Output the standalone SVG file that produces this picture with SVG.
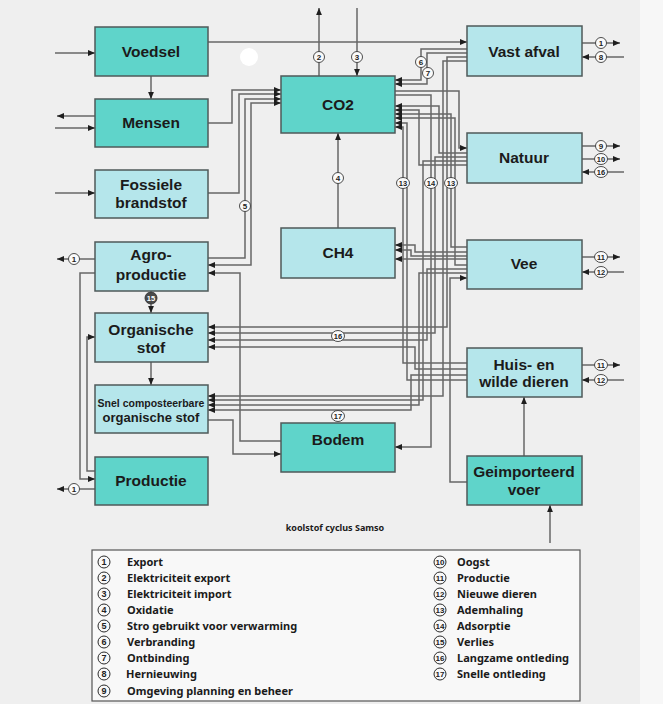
<svg xmlns="http://www.w3.org/2000/svg" width="663" height="704" viewBox="0 0 663 704">
<defs>
<marker id="ar" markerUnits="userSpaceOnUse" markerWidth="7" markerHeight="7" viewBox="0 0 7 7" refX="7" refY="3.5" orient="auto-start-reverse">
<path d="M0,0.6 L7,3.5 L0,6.4 z" fill="#1e1e1e"/>
</marker>
<style>
.bd{fill:#5fd4ca;stroke:#4f5a5a;stroke-width:1.5}
.bl{fill:#b5e6eb;stroke:#4f5a5a;stroke-width:1.5}
.t{font-family:"Liberation Sans",Arial,sans-serif;font-weight:bold;font-size:15.5px;fill:#1b1b1b;text-anchor:middle}
.c path{fill:none;stroke:#676767;stroke-width:1.5}
.a{marker-end:url(#ar)}
.lb circle,.lb ellipse{fill:#fafafa;stroke:#3a3a3a;stroke-width:0.9}
.lb text,.lg .n{font-family:"Liberation Sans",Arial,sans-serif;font-weight:bold;font-size:8px;fill:#222;text-anchor:middle}
.lg text{font-family:"Noto Sans","Open Sans",sans-serif;font-weight:bold;font-size:11px;fill:#1b1b1b}
.lg circle{fill:none;stroke:#2a2a2a;stroke-width:1}
.lg .n{font-size:9px}
</style>
</defs>
<rect x="0" y="0" width="663" height="704" fill="#efefef"/>
<rect x="640" y="0" width="23" height="704" fill="#f7f7f7"/>
<circle cx="249" cy="57" r="9" fill="#ffffff"/>

<g class="c" id="connectors">
<path class="a" d="M55,53 H95"/>
<path class="a" d="M151,76 V99"/>
<path class="a" d="M95,116 H57"/>
<path class="a" d="M55,128 H95"/>
<path class="a" d="M55,193 H95"/>
<path class="a" d="M95,259 H57"/>
<path class="a" d="M95,273 H80 V479 H95"/>
<path class="a" d="M95,471 H87 V337 H95"/>
<path class="a" d="M95,489 H57"/>
<path class="a" d="M151,291 V313"/>
<path class="a" d="M151,362 V385"/>
<path class="a" d="M208,123 H232 V90 H281"/>
<path class="a" d="M208,193 H239 V94 H281"/>
<path class="a" d="M208,258 H245 V99 H281"/>
<path class="a" d="M208,265 H251 V103 H281" marker-start="url(#ar)"/>
<path class="a" d="M281,441 H240 V273 H208"/>
<path class="a" d="M208,420 H233 V454 H281"/>
<path class="a" d="M208,42 H467"/>
<path class="a" d="M319,76 V8"/>
<path class="a" d="M357,8 V76"/>
<path class="a" d="M338,228 V133"/>
<path class="a" d="M582,43 H620"/>
<path class="a" d="M624,57 H582"/>
<path class="a" d="M582,146 H620"/>
<path class="a" d="M582,159 H620"/>
<path class="a" d="M624,172 H582"/>
<path class="a" d="M582,257 H620"/>
<path class="a" d="M624,272 H582"/>
<path class="a" d="M582,365 H620"/>
<path class="a" d="M624,380 H582"/>
<path class="a" d="M550,543 V505"/>
<path class="a" d="M524,456 V397"/>
<path class="a" d="M467,49 H421 V80 H395"/>
<path class="a" d="M467,53 H427 V84 H395"/>
<path class="a" d="M467,57 H447 V327 H208"/>
<path class="a" d="M467,61 H443 V396 H208"/>
<path class="a" d="M395,91 H459 V148 H467"/>
<path class="a" d="M395,95 H431 V447 H395"/>
<path class="a" d="M467,153 H439 V106 H395"/>
<path class="a" d="M467,157 H435 V333 H208"/>
<path class="a" d="M467,161 H423 V400 H208"/>
<path class="a" d="M467,165 H419 V110 H395"/>
<path class="a" d="M467,247 H451 V114 H395"/>
<path class="a" d="M467,252 H415 V245 H395"/>
<path class="a" d="M467,256 H411 V250 H395"/>
<path class="a" d="M467,259 H395"/>
<path class="a" d="M467,265 H455 V118 H395"/>
<path class="a" d="M467,269 H427 V340 H208"/>
<path class="a" d="M467,273 H419 V405 H208"/>
<path class="a" d="M467,482 H450 V278 H467"/>
<path class="a" d="M467,363 H403 V127 H395"/>
<path class="a" d="M467,369 H415 V347 H208"/>
<path class="a" d="M467,375 H411 V410 H208"/>
<path class="a" d="M467,380 H407 V123 H395"/>
</g>

<g class="lb" id="connector-labels">
<circle cx="74" cy="259" r="5.5"/><text x="74" y="262">1</text>
<circle cx="74" cy="489" r="5.5"/><text x="74" y="492">1</text>
<circle cx="151" cy="298" r="6" style="fill:#4a4a4a;stroke:#333"/><text x="151" y="301" style="fill:#fff;font-size:7.5px">15</text>
<circle cx="245" cy="206" r="5.5"/><text x="245" y="209">5</text>
<circle cx="319" cy="57" r="5.5"/><text x="319" y="60">2</text>
<circle cx="357" cy="57" r="5.5"/><text x="357" y="60">3</text>
<circle cx="338" cy="178" r="5.5"/><text x="338" y="181">4</text>
<circle cx="421" cy="62" r="5.5"/><text x="421" y="65">6</text>
<circle cx="428" cy="73" r="5.5"/><text x="428" y="76">7</text>
<ellipse cx="403" cy="183" rx="6.5" ry="5.5"/><text x="403" y="186" style="font-size:7.5px">13</text>
<ellipse cx="431" cy="183" rx="6.5" ry="5.5"/><text x="431" y="186" style="font-size:7.5px">14</text>
<ellipse cx="451" cy="183" rx="6.5" ry="5.5"/><text x="451" y="186" style="font-size:7.5px">13</text>
<ellipse cx="338" cy="336" rx="6.5" ry="5.5"/><text x="338" y="339" style="font-size:7.5px">16</text>
<ellipse cx="338" cy="416" rx="6.5" ry="5.5"/><text x="338" y="419" style="font-size:7.5px">17</text>
<circle cx="601" cy="43" r="5.5"/><text x="601" y="46">1</text>
<circle cx="601" cy="57" r="5.5"/><text x="601" y="60">8</text>
<circle cx="601" cy="146" r="5.5"/><text x="601" y="149">9</text>
<ellipse cx="601" cy="159" rx="6.5" ry="5.5"/><text x="601" y="162" style="font-size:7.5px">10</text>
<ellipse cx="601" cy="172" rx="6.5" ry="5.5"/><text x="601" y="175" style="font-size:7.5px">16</text>
<ellipse cx="601" cy="257" rx="6.5" ry="5.5"/><text x="601" y="260" style="font-size:7.5px">11</text>
<ellipse cx="601" cy="272" rx="6.5" ry="5.5"/><text x="601" y="275" style="font-size:7.5px">12</text>
<ellipse cx="601" cy="365" rx="6.5" ry="5.5"/><text x="601" y="368" style="font-size:7.5px">11</text>
<ellipse cx="601" cy="380" rx="6.5" ry="5.5"/><text x="601" y="383" style="font-size:7.5px">12</text>
</g>

<g id="voedsel"><rect class="bd" x="95" y="27" width="113" height="49"/><text class="t" x="151" y="57">Voedsel</text></g>
<g id="mensen"><rect class="bd" x="95" y="99" width="113" height="48"/><text class="t" x="151" y="128">Mensen</text></g>
<g id="fossiele-brandstof"><rect class="bl" x="95" y="170" width="113" height="48"/><text class="t" x="151" y="190">Fossiele</text><text class="t" x="151" y="207.5">brandstof</text></g>
<g id="agro-productie"><rect class="bl" x="95" y="242" width="113" height="49"/><text class="t" x="151" y="260">Agro-</text><text class="t" x="151" y="280">productie</text></g>
<g id="organische-stof"><rect class="bl" x="95" y="313" width="113" height="49"/><text class="t" x="151" y="335">Organische</text><text class="t" x="151" y="352.5">stof</text></g>
<g id="snel-composteerbare"><rect class="bl" x="95" y="385" width="113" height="48"/><text class="t" x="151" y="407" style="font-size:10.5px">Snel composteerbare</text><text class="t" x="151" y="421.5" style="font-size:13px">organische stof</text></g>
<g id="productie"><rect class="bd" x="95" y="457" width="113" height="48"/><text class="t" x="151" y="486">Productie</text></g>
<g id="co2"><rect class="bd" x="281" y="76" width="114" height="57"/><text class="t" x="338" y="110">CO2</text></g>
<g id="ch4"><rect class="bl" x="281" y="228" width="114" height="50"/><text class="t" x="338" y="258">CH4</text></g>
<g id="bodem"><rect class="bd" x="281" y="423" width="114" height="49"/><text class="t" x="338" y="445">Bodem</text></g>
<g id="vast-afval"><rect class="bl" x="467" y="26" width="115" height="50"/><text class="t" x="524" y="57">Vast afval</text></g>
<g id="natuur"><rect class="bl" x="467" y="133" width="115" height="50"/><text class="t" x="524" y="163">Natuur</text></g>
<g id="vee"><rect class="bl" x="467" y="240" width="115" height="49"/><text class="t" x="524" y="269">Vee</text></g>
<g id="huis-en-wilde-dieren"><rect class="bl" x="467" y="348" width="115" height="49"/><text class="t" x="524" y="369.5">Huis- en</text><text class="t" x="524" y="387">wilde dieren</text></g>
<g id="geimporteerd-voer"><rect class="bd" x="467" y="456" width="115" height="49"/><text class="t" x="524" y="477">Geimporteerd</text><text class="t" x="524" y="494.5">voer</text></g>

<text x="335" y="531" style="font-family:'Noto Sans','Open Sans',sans-serif;font-weight:bold;font-size:9px;fill:#1b1b1b;text-anchor:middle">koolstof cyclus Samso</text>

<g class="lg" id="legend">
<rect x="92" y="550" width="488" height="151" fill="#f8f8f8" stroke="#555" stroke-width="1.2"/>
<circle cx="104" cy="562" r="6"/><text class="n" x="104" y="565">1</text><text x="127" y="566">Export</text>
<circle cx="104" cy="578" r="6"/><text class="n" x="104" y="581">2</text><text x="127" y="582">Elektriciteit export</text>
<circle cx="104" cy="594" r="6"/><text class="n" x="104" y="597">3</text><text x="127" y="598">Elektriciteit import</text>
<circle cx="104" cy="610" r="6"/><text class="n" x="104" y="613">4</text><text x="127" y="614">Oxidatie</text>
<circle cx="104" cy="626" r="6"/><text class="n" x="104" y="629">5</text><text x="127" y="630">Stro gebruikt voor verwarming</text>
<circle cx="104" cy="642" r="6"/><text class="n" x="104" y="645">6</text><text x="127" y="646">Verbranding</text>
<circle cx="104" cy="658" r="6"/><text class="n" x="104" y="661">7</text><text x="127" y="662">Ontbinding</text>
<circle cx="104" cy="674" r="6"/><text class="n" x="104" y="677">8</text><text x="126" y="678">Hernieuwing</text>
<circle cx="104" cy="691" r="6"/><text class="n" x="104" y="694">9</text><text x="127" y="695">Omgeving planning en beheer</text>
<circle cx="440" cy="562" r="6"/><text class="n" x="440" y="565" style="font-size:8px">10</text><text x="457" y="566">Oogst</text>
<circle cx="440" cy="578" r="6"/><text class="n" x="440" y="581" style="font-size:8px">11</text><text x="457" y="582">Productie</text>
<circle cx="440" cy="594" r="6"/><text class="n" x="440" y="597" style="font-size:8px">12</text><text x="457" y="598">Nieuwe dieren</text>
<circle cx="440" cy="610" r="6"/><text class="n" x="440" y="613" style="font-size:8px">13</text><text x="457" y="614">Ademhaling</text>
<circle cx="440" cy="626" r="6"/><text class="n" x="440" y="629" style="font-size:8px">14</text><text x="457" y="630">Adsorptie</text>
<circle cx="440" cy="642" r="6"/><text class="n" x="440" y="645" style="font-size:8px">15</text><text x="457" y="646">Verlies</text>
<circle cx="440" cy="658" r="6"/><text class="n" x="440" y="661" style="font-size:8px">16</text><text x="457" y="662">Langzame ontleding</text>
<circle cx="440" cy="674" r="6"/><text class="n" x="440" y="677" style="font-size:8px">17</text><text x="457" y="678">Snelle ontleding</text>
</g>
</svg>
